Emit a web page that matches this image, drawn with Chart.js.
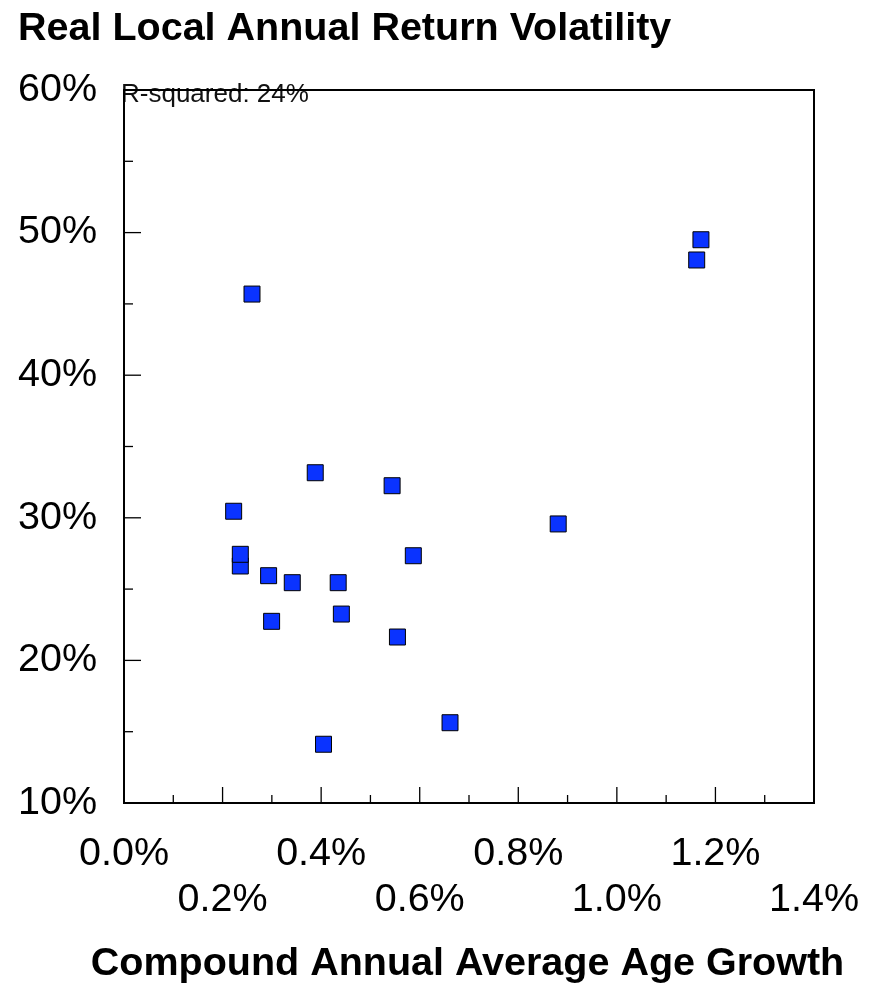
<!DOCTYPE html>
<html>
<head>
<meta charset="utf-8">
<script src="https://cdn.jsdelivr.net/npm/chart.js@4"></script>
<style>
  body { margin: 0; background: #fff; }
</style>
</head>
<body>
<canvas id="volChart" width="877" height="983"></canvas>
<script>
const FONT = "'Liberation Sans', Arial, Helvetica, sans-serif";

// Compound annual average age growth (%), one entry per market
const ageGrowth = [0.2225, 0.236, 0.236, 0.2934, 0.3414, 0.4346, 0.388, 0.544, 0.587,
                   0.2995, 0.441, 0.5548, 0.6615, 0.4048, 0.881, 0.2597, 1.1706, 1.162];
// Real local annual return volatility (%)
const volatility = [30.46, 26.62, 27.44, 25.94, 25.45, 25.45, 33.16, 32.25, 27.34,
                    22.74, 23.25, 21.64, 15.63, 14.12, 29.57, 45.69, 49.5, 48.08];

const xTickLabels = ["0.0%", "0.2%", "0.4%", "0.6%", "0.8%", "1.0%", "1.2%", "1.4%"];
const yTickLabels = ["10%", "20%", "30%", "40%", "50%", "60%"];
const rSquaredNote = "R-squared: 24%";
const xAxisTitle = "Compound Annual Average Age Growth";

const points = ageGrowth.map((x, i) => ({ x: x, y: volatility[i] }));

// frame, inward tick marks, the r-squared note and the x axis title
// (the built-in scale title squeezes text wider than the plot, so it is drawn here)
const frameTicks = {
  id: "frameTicks",
  beforeDatasetsDraw(chart) {
    const { ctx, chartArea: a, scales } = chart;
    ctx.save();
    ctx.font = "26px " + FONT;
    ctx.fillStyle = "#111";
    ctx.textBaseline = "alphabetic";
    ctx.textAlign = "left";
    ctx.fillText(rSquaredNote, a.left - 3, a.top + 12);

    ctx.font = "bold 39.5px " + FONT;
    ctx.fillStyle = "#000";
    ctx.textAlign = "center";
    ctx.fillText(xAxisTitle, (a.left + a.right) / 2 - 1.5, chart.height - 8);

    ctx.strokeStyle = "#000";
    ctx.lineWidth = 1.3;
    scales.x.ticks.forEach((t, i) => {
      const px = scales.x.getPixelForValue(t.value);
      const len = i % 2 === 0 ? 16 : 8;
      ctx.beginPath();
      ctx.moveTo(px, a.bottom);
      ctx.lineTo(px, a.bottom - len);
      ctx.stroke();
    });
    scales.y.ticks.forEach((t, i) => {
      const py = scales.y.getPixelForValue(t.value);
      const len = i % 2 === 0 ? 17 : 9;
      ctx.beginPath();
      ctx.moveTo(a.left, py);
      ctx.lineTo(a.left + len, py);
      ctx.stroke();
    });

    ctx.lineWidth = 2;
    ctx.strokeRect(a.left, a.top, a.right - a.left, a.bottom - a.top);
    ctx.restore();
  }
};

new Chart(document.getElementById("volChart"), {
  type: "scatter",
  data: {
    datasets: [{
      label: "Markets",
      data: points,
      pointStyle: "rect",
      pointRadius: 11.3,
      pointHoverRadius: 11.3,
      backgroundColor: "#0a33ff",
      borderColor: "#000",
      borderWidth: 1
    }]
  },
  plugins: [frameTicks],
  options: {
    responsive: false,
    animation: false,
    layout: { padding: { left: 18, right: 63, top: 0, bottom: 0 } },
    plugins: {
      legend: { display: false },
      tooltip: { enabled: false },
      title: {
        display: true,
        text: "Real Local Annual Return Volatility",
        align: "start",
        color: "#000",
        font: { family: FONT, size: 39.5, weight: "bold", lineHeight: 1.2 },
        padding: { top: 5.3, bottom: 37.3 }
      }
    },
    scales: {
      x: {
        type: "linear",
        min: 0,
        max: 1.4,
        afterFit(scale) { scale.height = 180; },
        // invisible tick marks only push the labels down
        grid: { display: true, drawOnChartArea: false, drawTicks: true, tickLength: 28, tickColor: "rgba(0,0,0,0)" },
        border: { display: false },
        ticks: {
          stepSize: 0.1,
          autoSkip: false,
          maxRotation: 0,
          padding: 0,
          color: "#000",
          font: { family: FONT, size: 39.5, lineHeight: 1.165 },
          callback: function (value, index) {
            if (index % 2 === 1) return "";
            const j = index / 2;
            return j % 2 === 0 ? [xTickLabels[j], ""] : ["", xTickLabels[j]];
          }
        }
      },
      y: {
        type: "linear",
        min: 10,
        max: 60,
        afterFit(scale) { scale.width = 106; },
        grid: { display: false, drawTicks: false },
        border: { display: false },
        ticks: {
          stepSize: 5,
          autoSkip: false,
          padding: 27,
          color: "#000",
          font: { family: FONT, size: 39.5 },
          callback: function (value, index) {
            return index % 2 === 0 ? yTickLabels[index / 2] : "";
          }
        }
      }
    }
  }
});
</script>
</body>
</html>
